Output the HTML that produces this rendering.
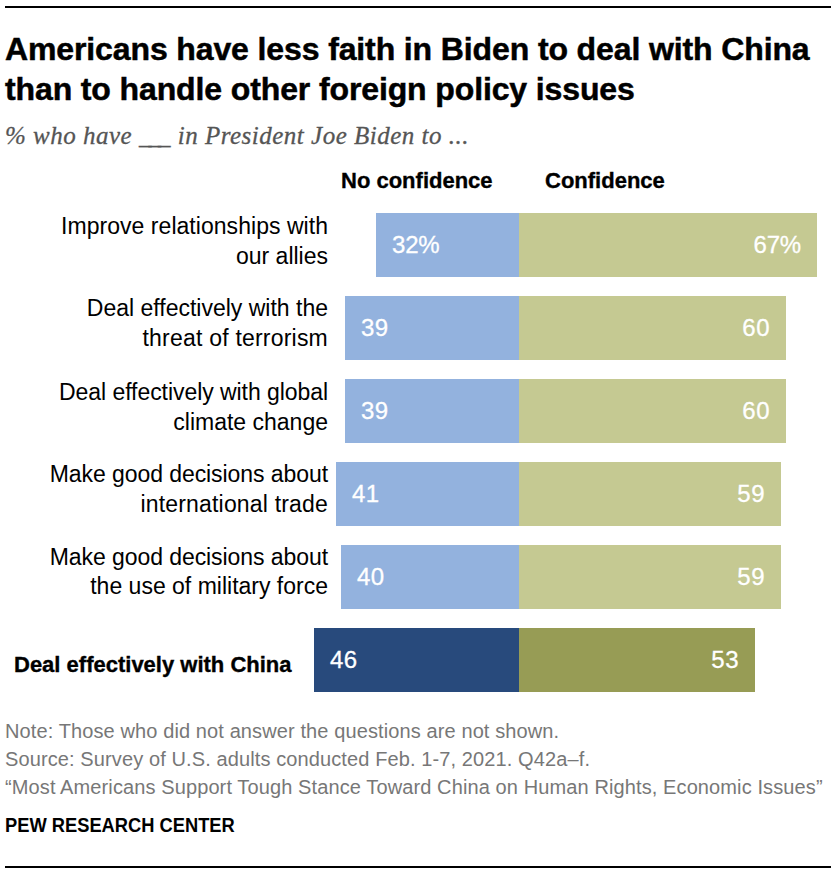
<!DOCTYPE html>
<html><head><meta charset="utf-8">
<style>
html,body{margin:0;padding:0;background:#fff;}
body{width:840px;height:874px;position:relative;overflow:hidden;font-family:"Liberation Sans",sans-serif;color:#000;}
.abs{position:absolute;white-space:nowrap;}
.rule{position:absolute;left:5px;width:826px;height:2px;background:#000;}
.title{left:5px;font-weight:bold;font-size:32px;line-height:40px;letter-spacing:-0.12px;-webkit-text-stroke:0.5px #000;}
.sub{left:5px;top:122px;font-family:"Liberation Serif",serif;font-style:italic;font-size:25px;letter-spacing:0.5px;color:#555;-webkit-text-stroke:0.3px #555;}
.hdr{font-weight:bold;font-size:22px;top:168px;-webkit-text-stroke:0.35px #000;}
.lbl{right:512px;text-align:right;font-size:23px;line-height:29.5px;}
.bar{position:absolute;height:63.5px;}
.nb{background:#93b2de;}
.cb{background:#c5c992;}
.nbd{background:#284a7c;}
.cbd{background:#979c55;}
.val{position:absolute;color:#fff;font-size:24px;line-height:63.5px;top:0px;letter-spacing:0.5px;-webkit-text-stroke:0.3px #fff;}
.pc{letter-spacing:-0.2px;}
.foot{left:5px;font-size:20px;letter-spacing:0.11px;color:#777;}
.pew{left:5px;top:814px;font-weight:bold;font-size:20px;transform:scaleX(0.915);transform-origin:0 0;}
</style></head><body>
<div class="rule" style="top:6px"></div>

<div class="abs title" id="t1" style="top:29px">Americans have less faith in Biden to deal with China</div>
<div class="abs title" id="t2" style="top:69px">than to handle other foreign policy issues</div>
<div class="abs sub" id="sub">% who have <span style="letter-spacing:-3px">__</span>_ in President Joe Biden to ...</div>

<div class="abs hdr" id="h1" style="left:341px">No confidence</div>
<div class="abs hdr" id="h2" style="left:545px">Confidence</div>

<div class="abs lbl" id="l1" style="top:212px"><span style="letter-spacing:0.04px">Improve relationships with</span><br>our allies</div>
<div class="abs lbl" id="l2" style="top:294px">Deal effectively with the<br><span style="letter-spacing:0.21px">threat of terrorism</span></div>
<div class="abs lbl" id="l3" style="top:378px"><span style="letter-spacing:-0.06px">Deal effectively with global</span><br>climate change</div>
<div class="abs lbl" id="l4" style="top:460px"><span style="letter-spacing:-0.07px">Make good decisions about</span><br><span style="letter-spacing:0.18px">international trade</span></div>
<div class="abs lbl" id="l5" style="top:542.5px"><span style="letter-spacing:-0.07px">Make good decisions about</span><br>the use of military force</div>
<div class="abs" id="l6" style="left:14px;top:651.5px;font-weight:bold;font-size:22px;-webkit-text-stroke:0.35px #000;">Deal effectively with China</div>

<div class="bar nb" style="left:376px;width:143px;top:213px"><span class="val pc" style="left:16px">32%</span></div>
<div class="bar cb" style="left:519px;width:298px;top:213px"><span class="val pc" style="right:16px">67%</span></div>

<div class="bar nb" style="left:345px;width:174px;top:296px"><span class="val" style="left:16px">39</span></div>
<div class="bar cb" style="left:519px;width:267px;top:296px"><span class="val" style="right:16px">60</span></div>

<div class="bar nb" style="left:345px;width:174px;top:379px"><span class="val" style="left:16px">39</span></div>
<div class="bar cb" style="left:519px;width:267px;top:379px"><span class="val" style="right:16px">60</span></div>

<div class="bar nb" style="left:336px;width:183px;top:462px"><span class="val" style="left:16px">41</span></div>
<div class="bar cb" style="left:519px;width:262px;top:462px"><span class="val" style="right:16px">59</span></div>

<div class="bar nb" style="left:341px;width:178px;top:545px"><span class="val" style="left:16px">40</span></div>
<div class="bar cb" style="left:519px;width:262px;top:545px"><span class="val" style="right:16px">59</span></div>

<div class="bar nbd" style="left:314px;width:205px;top:628px"><span class="val" style="left:16px">46</span></div>
<div class="bar cbd" style="left:519px;width:236px;top:628px"><span class="val" style="right:16px">53</span></div>

<div class="abs foot" id="f1" style="top:720px">Note: Those who did not answer the questions are not shown.</div>
<div class="abs foot" id="f2" style="top:748px">Source: Survey of U.S. adults conducted Feb. 1-7, 2021. Q42a&#8211;f.</div>
<div class="abs foot" id="f3" style="top:776px">&#8220;Most Americans Support Tough Stance Toward China on Human Rights, Economic Issues&#8221;</div>
<div class="abs pew" id="pew">PEW RESEARCH CENTER</div>

<div class="rule" style="top:866px"></div>
</body></html>
